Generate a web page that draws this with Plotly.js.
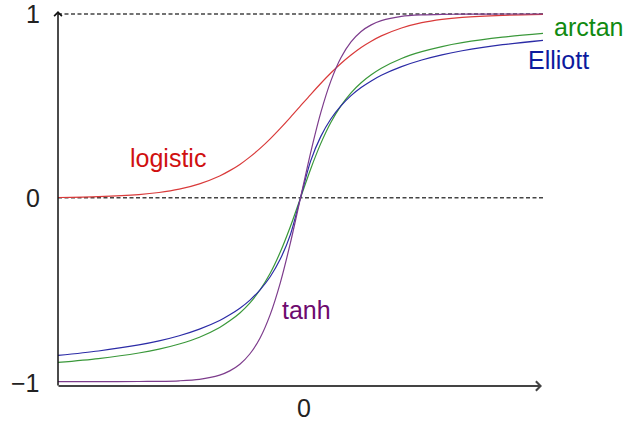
<!DOCTYPE html>
<html>
<head>
<meta charset="utf-8">
<script src="https://cdn.plot.ly/plotly-3.0.1.min.js"></script>
<style>html,body{margin:0;padding:0;background:#fff;}#chart{width:625px;height:421px;}</style>
</head>
<body>
<div id="chart"></div>
<script>
// x positions (same for every curve)
var xs = [-6,-5,-4,-3.5,-3,-2.5,-2,-1.75,-1.5,-1.25,-1,-0.75,-0.5,-0.25,0,0.25,0.5,0.75,1,1.25,1.5,1.75,2,2.5,3,3.5,4,5,6];
// values
var logistic = [0.002,0.007,0.018,0.029,0.047,0.076,0.119,0.148,0.182,0.223,0.269,0.321,0.378,0.438,0.5,0.562,0.622,0.679,0.731,0.777,0.818,0.852,0.881,0.924,0.953,0.971,0.982,0.993,0.998];
var tanhVals = [-1.0,-1.0,-0.999,-0.998,-0.995,-0.987,-0.964,-0.941,-0.905,-0.848,-0.762,-0.635,-0.462,-0.245,0,0.245,0.462,0.635,0.762,0.848,0.905,0.941,0.964,0.987,0.995,0.998,0.999,1.0,1.0];
var arctanVals = [-0.895,-0.874,-0.844,-0.823,-0.795,-0.758,-0.705,-0.669,-0.626,-0.571,-0.5,-0.41,-0.295,-0.156,0,0.156,0.295,0.41,0.5,0.571,0.626,0.669,0.705,0.758,0.795,0.823,0.844,0.874,0.895];
var elliott = [-0.857,-0.833,-0.8,-0.778,-0.75,-0.714,-0.667,-0.636,-0.6,-0.556,-0.5,-0.429,-0.333,-0.2,0,0.2,0.333,0.429,0.5,0.556,0.6,0.636,0.667,0.714,0.75,0.778,0.8,0.833,0.857];
var yTickVals = [1, 0, -1];
var yTickText = ["1", "0", "\u22121"];
var xTickText = ["0"];
var seriesNames = ["logistic", "arctan", "Elliott", "tanh"];

var font = "Liberation Sans, Arial, sans-serif";
function curve(y, color) {
  return {x: xs, y: y, type: 'scatter', mode: 'lines', hoverinfo: 'skip',
          line: {color: color, width: 1.2, shape: 'spline', smoothing: 0.8}};
}
var data = [
  curve(logistic, '#d93a3a'),
  curve(arctanVals, '#3a983a'),
  curve(elliott, '#2b2ba6'),
  curve(tanhVals, '#7d3c8c')
];

var ann = [];
// y tick labels
yTickVals.forEach(function(v, i) {
  ann.push({xref: 'paper', yref: 'y', x: -0.033, y: v + (v === -1 ? -0.006 : 0), xanchor: 'right', yanchor: 'middle',
            text: yTickText[i], showarrow: false, font: {family: font, size: 25, color: '#222'}});
});
ann.push({xref: 'paper', yref: 'paper', x: 0.5072, y: -0.0588, xanchor: 'center', yanchor: 'middle',
          text: xTickText[0], showarrow: false, font: {family: font, size: 25, color: '#222'}});
// series labels
ann.push({xref: 'paper', yref: 'paper', x: (168-58)/485, y: (386-158)/374, xanchor: 'center', yanchor: 'middle',
          text: seriesNames[0], showarrow: false, font: {family: font, size: 25, color: '#d01010'}});
ann.push({xref: 'paper', yref: 'paper', x: (552-58)/485, y: (386-27)/374, xanchor: 'left', yanchor: 'middle',
          text: seriesNames[1], showarrow: false, font: {family: font, size: 25, color: '#118a11'}});
ann.push({xref: 'paper', yref: 'paper', x: (526-58)/485, y: (386-60)/374, xanchor: 'left', yanchor: 'middle',
          text: seriesNames[2], showarrow: false, font: {family: font, size: 25, color: '#0c1a9e'}});
ann.push({xref: 'paper', yref: 'paper', x: (280-58)/485, y: (386-310)/374, xanchor: 'left', yanchor: 'middle',
          text: seriesNames[3], showarrow: false, font: {family: font, size: 25, color: '#6e0a6e'}});
// axes with arrows
ann.push({xref: 'paper', yref: 'paper', x: 0, y: (386-11)/374, ax: 0, ay: 376, axref: 'pixel', ayref: 'pixel',
          showarrow: true, arrowhead: 4, arrowsize: 1, arrowwidth: 1.5, arrowcolor: '#111', standoff: 0, text: ''});
ann.push({xref: 'paper', yref: 'paper', x: (542-58)/485, y: 0, ax: -485, ay: 0, axref: 'pixel', ayref: 'pixel',
          showarrow: true, arrowhead: 4, arrowsize: 1, arrowwidth: 1.8, arrowcolor: '#444', standoff: 0, text: ''});

var shapes = [
  {type: 'line', xref: 'paper', yref: 'y', x0: 0, x1: 1, y0: 1, y1: 1, layer: 'below',
   line: {color: '#444', width: 1.5, dash: '4px,2.5px'}},
  {type: 'line', xref: 'paper', yref: 'y', x0: 0, x1: 1, y0: 0, y1: 0, layer: 'below',
   line: {color: '#444', width: 1.5, dash: '4px,2.5px'}}
];

var layout = {
  width: 625, height: 421,
  margin: {l: 58, r: 82, t: 12, b: 35, pad: 0},
  paper_bgcolor: '#fff', plot_bgcolor: '#fff',
  showlegend: false,
  xaxis: {range: [-6, 6], showgrid: false, zeroline: false, showline: false, showticklabels: false, ticks: ''},
  yaxis: {range: [-1.0234, 1.0109], showgrid: false, zeroline: false, showline: false, showticklabels: false, ticks: ''},
  annotations: ann,
  shapes: shapes
};
Plotly.newPlot('chart', data, layout, {displayModeBar: false, staticPlot: true});
</script>
</body>
</html>
